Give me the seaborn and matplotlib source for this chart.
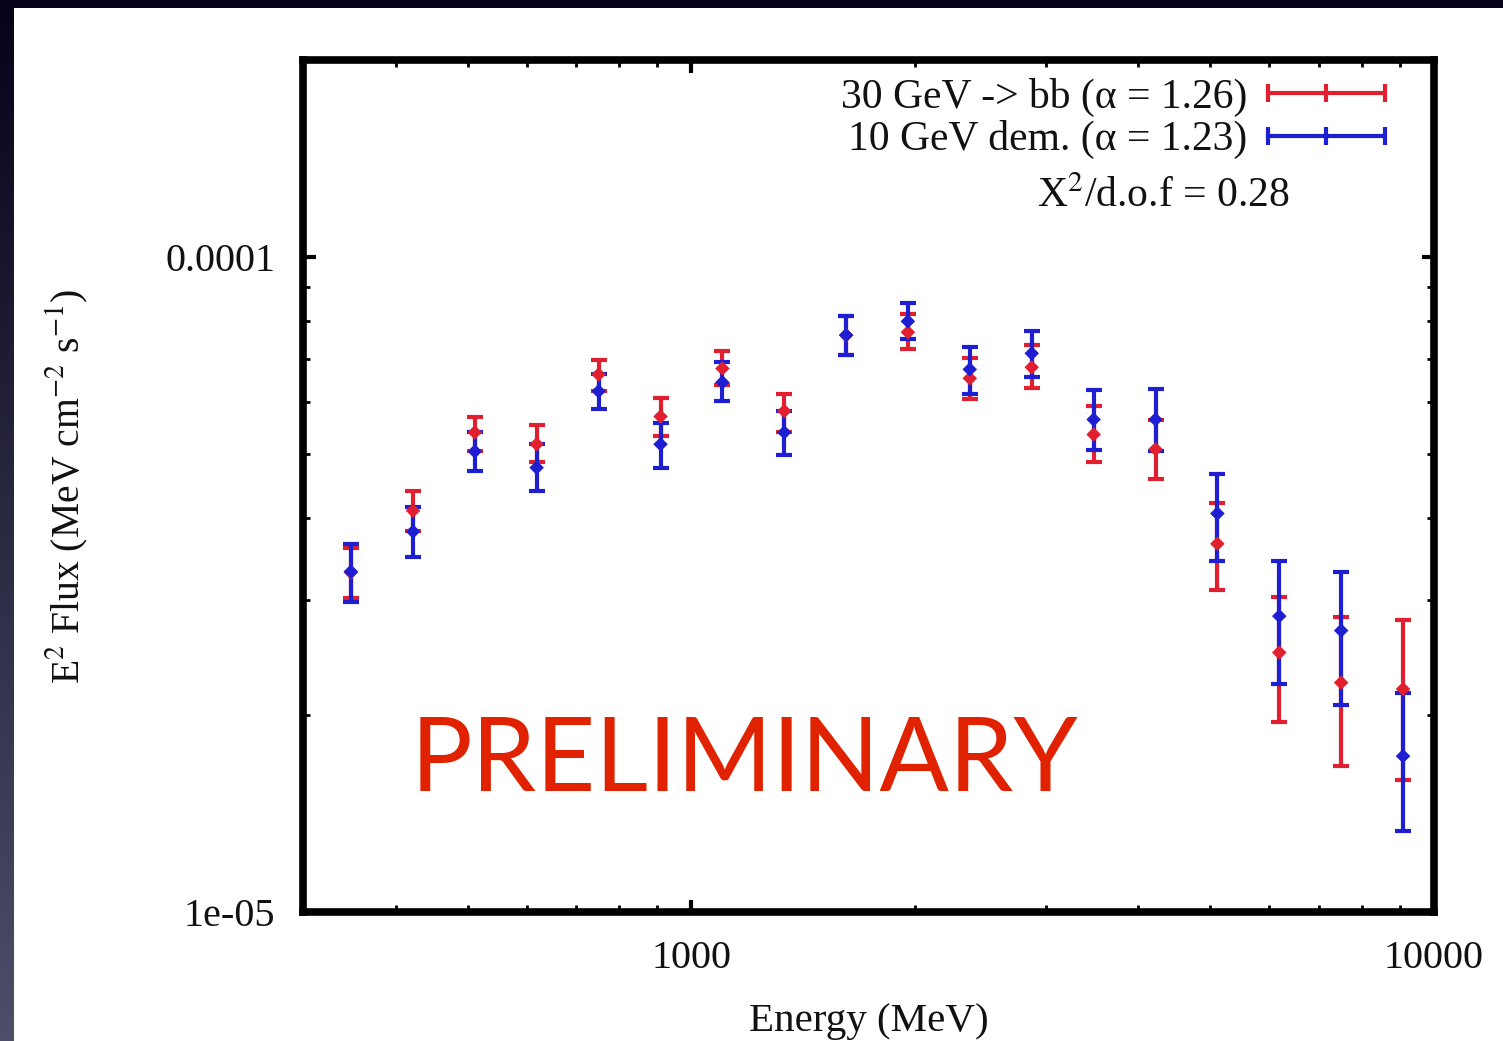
import numpy as np
import pandas as pd
import matplotlib
matplotlib.use("Agg")
import matplotlib.pyplot as plt
from matplotlib.lines import Line2D
from matplotlib.patches import Rectangle
from matplotlib.ticker import FixedLocator, FixedFormatter, NullFormatter, LogLocator
import seaborn as sns

# ---- data ----
energy = [348, 422, 511, 619, 750, 909, 1101, 1334, 1616, 1957, 2371, 2873,
          3481, 4217, 5109, 6190, 7499, 9085]

# 30 GeV -> bb  (values in units of 1e-5)
bb_center = [3.30, 4.10, 5.40, 5.18, 6.62, 5.71, 6.76, 5.82, 7.60, 7.68, 6.53, 6.79,
             5.36, 5.09, 3.65, 2.49, 2.24, 2.19]
bb_low = [3.02, 3.82, 5.05, 4.86, 6.24, 5.33, 6.39, 5.40, 7.08, 7.23, 6.07, 6.31,
          4.86, 4.59, 3.10, 1.95, 1.67, 1.59]
bb_high = [3.60, 4.40, 5.71, 5.54, 6.96, 6.09, 7.18, 6.17, 8.12, 8.18, 7.01, 7.33,
           5.92, 5.65, 4.21, 3.03, 2.82, 2.79]

# 10 GeV dem.  (values in units of 1e-5)
dem_center = [3.31, 3.81, 5.05, 4.77, 6.24, 5.18, 6.44, 5.40, 7.60, 7.98, 6.74, 7.13,
              5.65, 5.65, 4.06, 2.83, 2.69, 1.73]
dem_low = [2.97, 3.48, 4.71, 4.40, 5.86, 4.76, 6.02, 4.98, 7.08, 7.49, 6.19, 6.55,
           5.07, 5.05, 3.44, 2.23, 2.07, 1.33]
dem_high = [3.65, 4.16, 5.40, 5.18, 6.62, 5.59, 6.91, 5.82, 8.12, 8.51, 7.28, 7.70,
            6.26, 6.28, 4.66, 3.43, 3.30, 2.16]

series_labels = ["30 GeV -> bb (\u03b1 = 1.26)", "10 GeV dem. (\u03b1 = 1.23)"]
series_colors = ["#e0202e", "#1f1fd2"]
chi2_text = "X$^2$/d.o.f = 0.28"
x_ticks = [1000, 10000]
x_ticklabels = ["1000", "10000"]
y_ticks = [1e-5, 1e-4]
y_ticklabels = ["1e-05", "0.0001"]
SCALE = 1e-5

# ---- style ----
sns.set_theme(style="ticks")
plt.rcParams["font.family"] = ["Liberation Serif", "DejaVu Serif"]
plt.rcParams["mathtext.fontset"] = "stix"

W, H = 1503, 1041
fig = plt.figure(figsize=(W / 100, H / 100), dpi=100, facecolor="#05041a")

# slide background: white page with dark gradient strip on the left
bg = fig.add_axes([0, 0, 1, 1], zorder=-5)
bg.set_axis_off()
bg.add_patch(Rectangle((14, 8), W - 14, H - 8, facecolor="white", edgecolor="none"))
grad = np.linspace(0, 1, 256).reshape(-1, 1)
top_c = np.array([5, 4, 26]) / 255
bot_c = np.array([78, 78, 106]) / 255
img = top_c[None, None, :] * (1 - grad[..., None]) + bot_c[None, None, :] * grad[..., None]
bg.imshow(img, aspect="auto", extent=[0, 14, H, 8], origin="upper")
bg.set_xlim(0, W)
bg.set_ylim(H, 0)

ax = fig.add_axes([303 / W, 1 - 912 / H, (1434 - 303) / W, (912 - 60) / H], zorder=1)
ax.set_facecolor("white")

rows = []
for lab, c, lo, hi in [(series_labels[0], bb_center, bb_low, bb_high),
                       (series_labels[1], dem_center, dem_low, dem_high)]:
    for e, v, l, h in zip(energy, c, lo, hi):
        rows.append({"series": lab, "energy": e, "flux": v * SCALE,
                     "low": l * SCALE, "high": h * SCALE})
df = pd.DataFrame(rows)

for lab, col in zip(series_labels, series_colors):
    d = df[df["series"] == lab]
    ax.errorbar(d["energy"], d["flux"],
                yerr=[d["flux"] - d["low"], d["high"] - d["flux"]],
                fmt="none", ecolor=col, elinewidth=3.0, capsize=5.5, capthick=3.0,
                zorder=3)

sns.scatterplot(data=df, x="energy", y="flux", hue="series",
                palette=dict(zip(series_labels, series_colors)),
                marker="D", s=55, edgecolor="none", ax=ax, legend=False, zorder=4)

ax.set_xscale("log")
ax.set_yscale("log")
ax.set_xlim(300, 10000)
ax.set_ylim(1e-5, 2e-4)

ax.xaxis.set_major_locator(FixedLocator(x_ticks))
ax.xaxis.set_major_formatter(FixedFormatter(x_ticklabels))
ax.yaxis.set_major_locator(FixedLocator(y_ticks))
ax.yaxis.set_major_formatter(FixedFormatter(y_ticklabels))
ax.xaxis.set_minor_locator(LogLocator(base=10, subs=np.arange(2, 10)))
ax.yaxis.set_minor_locator(LogLocator(base=10, subs=np.arange(2, 10)))
ax.xaxis.set_minor_formatter(NullFormatter())
ax.yaxis.set_minor_formatter(NullFormatter())

ax.tick_params(which="both", direction="in", top=True, right=True, color="black")
ax.tick_params(which="major", length=9, width=3, labelsize=29, pad=20,
               labelcolor="#111111")
ax.tick_params(which="minor", length=5, width=2)
for s in ax.spines.values():
    s.set_linewidth(5.5)
    s.set_color("black")

ax.set_xlabel("Energy (MeV)", fontsize=29.5, color="#111111", labelpad=19)
ax.set_ylabel(r"E$^2$ Flux (MeV cm$^{-2}$ s$^{-1}$)", fontsize=28.5, color="#111111")
ax.yaxis.set_label_coords(-0.188, 0.5)

handles = [Line2D([], [], color=c, lw=3.0, marker="|", markersize=13,
                  markeredgewidth=3.0) for c in series_colors]
leg = ax.legend(handles, series_labels, loc="upper right",
                bbox_to_anchor=((1397 - 303) / 1131, (912 - 78) / 852),
                frameon=False, markerfirst=False, numpoints=3,
                handlelength=3.4, handletextpad=0.2, borderpad=0,
                borderaxespad=0, labelspacing=0.08, fontsize=30)
for t in leg.get_texts():
    t.set_color("#111111")

ax.text((1290 - 303) / 1131, (912 - 197) / 852, chi2_text, transform=ax.transAxes,
        ha="right", va="center", fontsize=30, color="#111111")

ax.text((411 - 303) / 1131, (912 - 762) / 852, "PRELIMINARY", transform=ax.transAxes,
        ha="left", va="center", fontsize=74, color="#e02200",
        family=["Lato", "DejaVu Sans"])

fig.savefig("out.png", dpi=100, facecolor=fig.get_facecolor())
